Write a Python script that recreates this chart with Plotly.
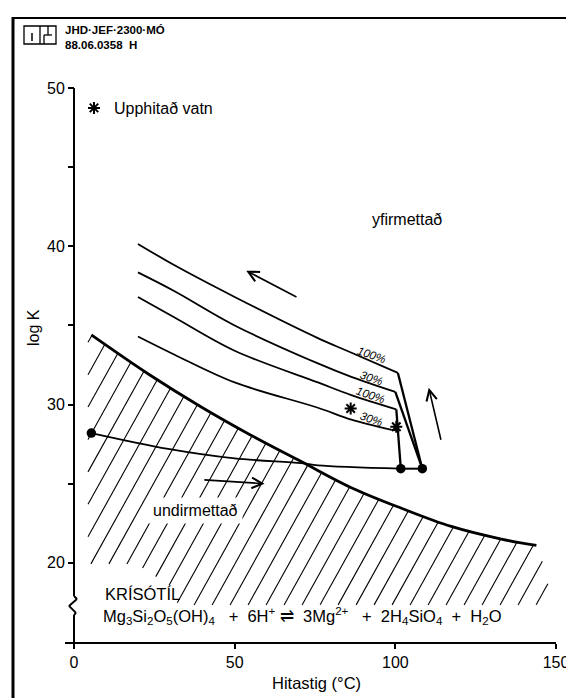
import numpy as np
import plotly.graph_objects as go

# ---------------- data ----------------
# saturation boundary of chrysotile (thick curve, hatched below)
bound_x = [5.4, 23.0, 39.6, 55.2, 70.7, 86.3, 101.9, 117.4, 133.0, 143.9]
bound_y = [34.4, 31.95, 29.85, 28.05, 26.4, 24.75, 23.45, 22.3, 21.5, 21.1]

# four cooling curves (curved part) and their straight drop to the dots
curveA_x = [19.9, 31.3, 50.0, 75.9, 85.3, 100.8]
curveA_y = [40.15, 38.8, 36.8, 34.2, 33.37, 32.0]
curveB_x = [19.9, 31.3, 50.0, 75.9, 86.3, 100.0]
curveB_y = [38.35, 37.16, 35.0, 32.6, 31.75, 30.8]
curveC_x = [19.9, 31.3, 50.0, 75.9, 86.3, 100.3]
curveC_y = [36.8, 35.5, 33.4, 31.4, 30.6, 29.7]
curveD_x = [19.9, 31.3, 50.0, 75.9, 86.3, 98.9]
curveD_y = [34.3, 33.15, 31.4, 29.8, 29.05, 28.4]
curve_labels = ["100%", "30%", "100%", "30%"]

# lower (heating) curve from the start dot
curveE_x = [5.4, 29.3, 50.0, 70.7, 75.9, 101.7]
curveE_y = [28.2, 27.2, 26.6, 26.3, 26.16, 25.95]

# dots
dot_x = [5.4, 101.7, 108.4]
dot_y = [28.2, 25.95, 25.95]

# heated water (Upphitað vatn) samples
hot_x = [86.1, 100.3]
hot_y = [29.75, 28.6]

x_ticks = [0, 50, 100, 150]
y_ticks = [20, 25, 30, 35, 40, 45, 50]
y_ticktext = ["20", "", "30", "", "40", "", "50"]

# ---------------- geometry helpers ----------------
W, H = 574, 698
ML, MR, MT, MB = 57, 26, 80, 64
X0, X1 = -2.8, 150
Y0, Y1 = 15, 50
PW, PH = W - ML - MR, H - MT - MB


def px(xp):
    return (xp - ML) / PW


def py(yp):
    return (H - MB - yp) / PH


BLACK = "black"
fig = go.Figure()

# ---------------- hatching under the boundary ----------------
xs = np.arange(4.36, 147.5, 0.02)
top = np.interp(xs, bound_x + [145.6, 147.5], bound_y + [20.25, 18.9]) - 0.05
bot = np.interp(xs, [4.36, 19.3, 29.9, 32.4, 147.5], [19.93, 19.93, 18.54, 17.34, 17.34])
slope = 1.8 * (PW / (X1 - X0)) / (PH / (Y1 - Y0))
step = 18 * (X1 - X0) / PW
hx, hy = [], []
c = 143.8
while c > -45:
    yl = 17.34 + slope * (xs - c)
    inside = (yl >= bot) & (yl <= top)
    idx = np.nonzero(inside)[0]
    if len(idx) > 2:
        a, b = idx[0], idx[-1]
        hx += [xs[a], xs[b], None]
        hy += [yl[a], yl[b], None]
    c -= step
fig.add_trace(go.Scatter(x=hx, y=hy, mode="lines", line=dict(color=BLACK, width=1.1),
                         hoverinfo="skip", showlegend=False))

# ---------------- curves ----------------
fig.add_trace(go.Scatter(x=bound_x, y=bound_y, mode="lines",
                         line=dict(color=BLACK, width=2.8, shape="spline", smoothing=1.0),
                         showlegend=False))

curves = [(curveA_x, curveA_y, dot_x[2], dot_y[2]),
          (curveB_x, curveB_y, dot_x[2], dot_y[2]),
          (curveC_x, curveC_y, dot_x[1], dot_y[1])]
for cx, cy, ex, ey in curves:
    fig.add_trace(go.Scatter(x=cx, y=cy, mode="lines",
                             line=dict(color=BLACK, width=1.8, shape="spline", smoothing=1.0),
                             showlegend=False))
    fig.add_trace(go.Scatter(x=[cx[-1], ex], y=[cy[-1], ey], mode="lines",
                             line=dict(color=BLACK, width=2.3), showlegend=False))

fig.add_trace(go.Scatter(x=curveD_x, y=curveD_y, mode="lines",
                         line=dict(color=BLACK, width=1.8, shape="spline", smoothing=1.0),
                         showlegend=False))
# join of curve D to the vertical drop of curve C
jx = curveC_x[-1] + (curveC_y[-1] - curveD_y[-1]) / (curveC_y[-1] - dot_y[1]) * (dot_x[1] - curveC_x[-1])
fig.add_trace(go.Scatter(x=[curveD_x[-1], jx], y=[curveD_y[-1], curveD_y[-1] - 0.05], mode="lines",
                         line=dict(color=BLACK, width=1.8), showlegend=False))

fig.add_trace(go.Scatter(x=curveE_x, y=curveE_y, mode="lines",
                         line=dict(color=BLACK, width=1.8, shape="spline", smoothing=1.0),
                         showlegend=False))
fig.add_trace(go.Scatter(x=[dot_x[1], dot_x[2]], y=[dot_y[1], dot_y[2]], mode="lines",
                         line=dict(color=BLACK, width=2), showlegend=False))

fig.add_trace(go.Scatter(x=dot_x, y=dot_y, mode="markers",
                         marker=dict(color=BLACK, size=9.5), showlegend=False))

fig.add_trace(go.Scatter(x=hot_x, y=hot_y, mode="markers", name="Upphitað vatn",
                         marker=dict(symbol="asterisk-open", size=10, color=BLACK,
                                     line=dict(color=BLACK, width=2)),
                         showlegend=True))

# ---------------- annotations ----------------
ann = []
lab_x = [92.7, 92.5, 92.2, 92.5]
lab_y = [33.15, 31.68, 30.63, 29.1]
for t, lx, ly in zip(curve_labels, lab_x, lab_y):
    ann.append(dict(x=lx, y=ly, text="<i>" + t + "</i>", showarrow=False, textangle=19,
                    font=dict(size=11.5)))

ann.append(dict(x=103.6, y=41.7, text="yfirmettað", showarrow=False, font=dict(size=16)))
ann.append(dict(x=37.7, y=23.3, text="undirmettað", showarrow=False, font=dict(size=16),
                bgcolor="white", borderpad=4))
ann.append(dict(x=9.0, y=18.03, text="KRÍSÓTÍL", showarrow=False, xanchor="left", font=dict(size=16.5)))
sp = "\u00a0"
formula = ("Mg<sub>3</sub>Si<sub>2</sub>O<sub>5</sub>(OH)<sub>4</sub>" + sp * 3 + "+" + sp * 2 +
           "6H<sup>+</sup>" + sp + "\u21cc" + sp * 2 + "3Mg<sup>2+</sup>" + sp * 3 + "+" + sp * 2 +
           "2H<sub>4</sub>SiO<sub>4</sub>" + sp * 2 + "+" + sp * 2 + "H<sub>2</sub>O")
ann.append(dict(x=8.5, y=16.65, text=formula, showarrow=False, xanchor="left", font=dict(size=16.5)))

# arrows
arrows = [((69.7, 36.75), (53.6, 38.46)),
          ((40.1, 25.25), (59.3, 25.0)),
          ((114.3, 27.68), (110.4, 31.06))]
for (tx, ty), (hx_, hy_) in arrows:
    ann.append(dict(x=hx_, y=hy_, ax=tx, ay=ty, axref="x", ayref="y", xref="x", yref="y",
                    text="", showarrow=True, arrowhead=5, arrowsize=1.3, arrowwidth=1.6,
                    arrowcolor=BLACK))

# outside texts
ann.append(dict(xref="paper", yref="paper", x=px(308), y=py(675), text="Hitastig (°C)",
                xanchor="center", yanchor="middle", showarrow=False, font=dict(size=16.5)))
ann.append(dict(xref="paper", yref="paper", x=px(25), y=py(320), text="log K", textangle=-90,
                xanchor="center", yanchor="middle", showarrow=False, font=dict(size=16)))
ann.append(dict(xref="paper", yref="paper", x=px(55), y=py(29), align="left",
                text="<b>JHD·JEF·2300·MÓ<br>88.06.0358" + sp * 2 + "H</b>",
                showarrow=False, xanchor="left", yanchor="middle", font=dict(size=11.5)))

# ---------------- shapes: axis line with break, frame, logo ----------------
shapes = []


def seg(x0, y0, x1, y1, w=2, ref="data"):
    if ref == "data":
        return dict(type="line", xref="x", yref="y", x0=x0, y0=y0, x1=x1, y1=y1,
                    line=dict(color=BLACK, width=w), layer="above")
    return dict(type="line", xref="paper", yref="paper", x0=px(x0), y0=py(y0), x1=px(x1), y1=py(y1),
                line=dict(color=BLACK, width=w), layer="above")


# y axis line with zig-zag break
brk = [(0, Y1), (0, 17.91), (0.93, 17.72), (-1.56, 17.28), (0.62, 16.84), (0, 16.71), (0, Y0)]
for (a0, b0), (a1, b1) in zip(brk[:-1], brk[1:]):
    shapes.append(seg(a0, b0, a1, b1, 2))

# frame (left and top)
shapes.append(seg(5, 9, 5, 698, 3, ref="paper"))
shapes.append(seg(4, 10, 574, 10, 2, ref="paper"))

# logo
shapes.append(dict(type="rect", xref="paper", yref="paper", x0=px(16), y0=py(18), x1=px(48), y1=py(36),
                   line=dict(color=BLACK, width=1.3)))
shapes.append(seg(32, 18, 32, 36, 1.3, ref="paper"))
shapes.append(seg(24, 25, 24, 33, 1.5, ref="paper"))
shapes.append(seg(36, 27, 44, 27, 1.3, ref="paper"))
shapes.append(seg(36, 27, 36, 36, 1.3, ref="paper"))
shapes.append(seg(40, 18, 40, 27, 1.3, ref="paper"))

fig.update_layout(
    width=W, height=H,
    margin=dict(l=ML, r=MR, t=MT, b=MB),
    paper_bgcolor="white", plot_bgcolor="white",
    font=dict(family="Liberation Sans, Arial, sans-serif", size=15, color=BLACK),
    xaxis=dict(range=[X0, X1], showgrid=False, zeroline=False, showline=True, linecolor=BLACK,
               linewidth=2, ticks="outside", ticklen=5, tickwidth=1.5, tickcolor=BLACK,
               tickvals=x_ticks, tickfont=dict(size=16)),
    yaxis=dict(range=[Y0, Y1], showgrid=False, zeroline=False, showline=False,
               anchor="free", position=(0 - X0) / (X1 - X0),
               ticks="outside", ticklen=6, tickwidth=1.5, tickcolor=BLACK,
               tickvals=y_ticks, ticktext=y_ticktext, tickfont=dict(size=16)),
    legend=dict(x=px(66), y=py(100), xanchor="left", yanchor="middle",
                bgcolor="rgba(0,0,0,0)", font=dict(size=16)),
    annotations=ann,
    shapes=shapes,
)

fig.write_html("out.html")
